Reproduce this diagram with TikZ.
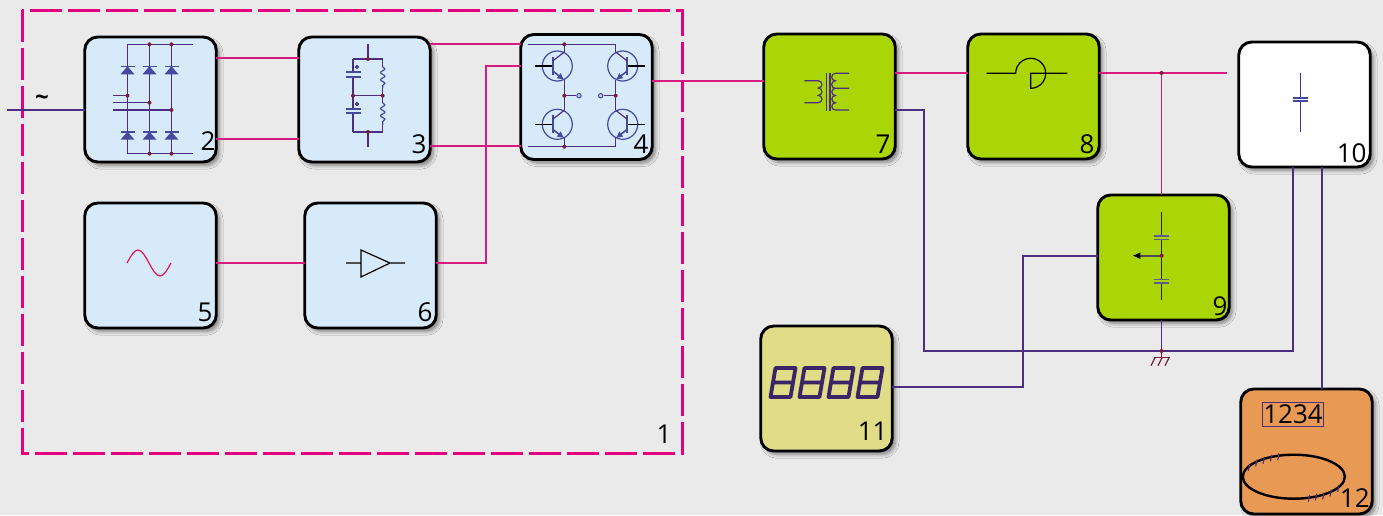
\documentclass[tikz,border=0pt]{standalone}
\usepackage{fontspec}
\setmainfont{Open Sans}
\usetikzlibrary{arrows.meta,decorations.pathmorphing,shadows.blur}
\definecolor{pagegrey}{HTML}{EAEAEA}
\definecolor{skyfill}{HTML}{D6EAFA}
\definecolor{limefill}{HTML}{ABD605}
\definecolor{sandfill}{HTML}{E0DC88}
\definecolor{orangefill}{HTML}{E89A55}
\definecolor{magline}{HTML}{D81B80}
\definecolor{frameline}{HTML}{E4007F}
\definecolor{purpline}{HTML}{4B2E7F}
\definecolor{iconblue}{HTML}{454A9E}
\definecolor{juncred}{HTML}{7A1E3C}
\tikzset{
  >=Latex,
  stage/.style={draw=black, line width=1.45pt, rounded corners=6.5pt, minimum width=65.75pt, minimum height=62.5pt,
    inner sep=0pt, outer sep=0pt, blur shadow={shadow xshift=1.6pt, shadow yshift=-1.8pt, shadow blur steps=6, shadow blur radius=1.8pt, shadow opacity=45}},
  num/.style={font=\fontsize{13}{13}\selectfont, anchor=base east, inner sep=0pt},
  wirered/.style={draw=magline, line width=0.58pt},
  wirepurp/.style={draw=purpline, line width=0.58pt},
  rail/.style={draw=purpline, line width=0.58pt},
  plate/.style={draw=iconblue, line width=0.8pt},
  junc/.style={fill=juncred},
  ink/.style={draw=black, line width=0.6pt},
  zig/.style={draw=iconblue, line width=0.6pt, decorate, decoration={snake, amplitude=1.1pt, segment length=3.6pt}},
}
\begin{document}
\begin{tikzpicture}[x=0.5pt,y=-0.5pt]
\useasboundingbox (0,0) rectangle (1383,515);
\fill[pagegrey] (0,0) rectangle (1383,515);
% dashed frame of the inverter
\draw[draw=frameline, line width=1.5pt, dash pattern=on 16pt off 3pt] (22,10) rectangle (682,453);
\node[num] (n1) at (672,443) {1};
% stages
\node[stage, fill=skyfill] (b2) at (150.5,99.5) {};
\node[stage, fill=skyfill] (b3) at (364.5,99.5) {};
\node[stage, fill=skyfill] (b4) at (586.5,97) {};
\node[stage, fill=skyfill] (b5) at (150.5,265.5) {};
\node[stage, fill=skyfill] (b6) at (370.5,265.5) {};
\node[stage, fill=limefill] (b7) at (829.5,96.5) {};
\node[stage, fill=limefill] (b8) at (1033.5,96.5) {};
\node[stage, fill=limefill] (b9) at (1163.5,257.5) {};
\node[stage, fill=white] (b10) at (1304.5,104.5) {};
\node[stage, fill=sandfill] (b11) at (826.5,388.5) {};
\node[stage, fill=orangefill] (b12) at (1306.5,451.5) {};
% numbers
\node[num] (n2) at (216,150) {2};
\node[num] (n3) at (427,153) {3};
\node[num] (n4) at (649,153) {4};
\node[num] (n5) at (213,321) {5};
\node[num] (n6) at (433,321) {6};
\node[num] (n7) at (891,153) {7};
\node[num] (n8) at (1095,153) {8};
\node[num] (n9) at (1228,315) {9};
\node[num] (n10) at (1367,162) {10};
\node[num] (n11) at (888,440) {11};
\node[num] (n12) at (1370,507) {12};
% magenta wires
\coordinate (j8) at (1161.5,73);
\coordinate (e10) at (1227,73);
\draw[wirered] (b2.east |- 0,58) -- (b3.west |- 0,58);
\draw[wirered] (b2.east |- 0,139) -- (b3.west |- 0,139);
\draw[wirered] (b3.east |- 0,44) -- (b4.west |- 0,44);
\draw[wirered] (b3.east |- 0,146) -- (b4.west |- 0,146);
\draw[wirered] (b5.east |- 0,263) -- (b6.west |- 0,263);
\draw[wirered] (b6.east |- 0,263) -| (486,66) -- (b4.west |- 0,66);
\draw[wirered] (b4.east |- 0,81) -- (b7.west |- 0,81);
\draw[wirered] (b7.east |- 0,73) -- (b8.west |- 0,73);
\draw[wirered] (b8.east |- 0,73) -- (e10);
\draw[wirered] (j8) -- (j8 |- b9.north);
\fill[junc] (j8) circle (2);
% purple wires
\coordinate (ac) at (7,110);
\coordinate (gnd) at (1161.5,351);
\draw[wirepurp] (ac) -- (b2.west |- ac);
\node[font=\fontsize{12}{12}\selectfont\bfseries, inner sep=0pt] (acl) at (42,100) {\textasciitilde};
\draw[wirepurp] (b7.east |- 0,110) -| (924,351) -- (1293,351) -- (1293,0 |- b10.south);
\draw[wirepurp] (gnd |- b9.south) -- (gnd);
\draw[wirepurp] (1322,0 |- b10.south) -- (1322,0 |- b12.north);
\draw[wirepurp] (b11.east |- 0,387) -| (1023,256) -- (b9.west |- 0,256);
% ground
\draw[draw=juncred, line width=0.6pt] (gnd) -- ++(0,6.7) ++(-8,0) -- ++(16,0);
\foreach \x in {1155,1162,1169}
  \draw[draw=juncred, line width=0.6pt] (\x,357.7) -- ++(-4,8);
\fill[junc] (gnd) circle (2);
% 2: rectifier
\draw[rail] (193,44.3) -- (127.5,44.3) -- (127.5,153.7) -- (193,153.7);
\draw[rail] (149.5,44.3) -- (149.5,153.7);
\draw[rail] (171.5,44.3) -- (171.5,153.7);
\draw[rail] (112.7,95.7) -- (127.5,95.7);
\draw[rail] (112.7,102.7) -- (149.5,102.7);
\draw[rail] (112.7,110) -- (171.5,110);
\foreach \x in {127.5,149.5,171.5}
  \foreach \y in {66.3,131.7} {
    \fill[iconblue] (\x,\y) -- (\x-7,\y+8) -- (\x+7,\y+8) -- cycle;
    \draw[plate] (\x-7,\y) -- (\x+7,\y);
  }
\foreach \x/\y in {149.5/44.3,171.5/44.3,149.5/153.7,171.5/153.7,127.5/95.7,149.5/102.7,171.5/110}
  \fill[junc] (\x,\y) circle (2);
% 3: capacitors and resistors
\draw[rail] (368,44) -- (368,59) (353,59) -- (382.7,59) (353,95.7) -- (382.7,95.7) (353,132) -- (382.7,132) (368,132) -- (368,146.7);
\draw[rail] (353,59) -- (353,72) (353,76.7) -- (353,109) (353,112.7) -- (353,132);
\draw[rail] (382.7,59) -- (382.7,66.7) (382.7,88) -- (382.7,102.7) (382.7,125) -- (382.7,132);
\draw[zig] (382.7,66.7) -- (382.7,88);
\draw[zig] (382.7,102.7) -- (382.7,125);
\foreach \y/\z in {72/76.7,109/112.7} {
  \draw[plate] (346,\y) -- (360.5,\y);
  \draw[plate] (346,\z) -- (360.5,\z);
  \draw[draw=iconblue, line width=0.6pt] (355,\y-5) -- (359,\y-5) (357,\y-7) -- (357,\y-3);
}
\foreach \x/\y in {368/59,353/95.7,382.7/95.7,368/132}
  \fill[junc] (\x,\y) circle (2);
% 4: transistor bridge
\draw[rail] (527.7,44.3) -- (615.7,44.3) (527.7,146.7) -- (615.7,146.7);
\foreach \x in {564.3,615.7}
  \draw[rail] (\x,44.3) -- (\x,52) (\x,80) -- (\x,110.3) (\x,138.3) -- (\x,146.7);
\foreach \cx/\cy/\s in {557.3/66/1,557.3/124.3/1,622.7/66/-1,622.7/124.3/-1} {
  \begin{scope}[shift={(\cx,\cy)},xscale=\s]
    \draw[draw=iconblue, line width=0.6pt] (0,0) circle (15);
    \draw[ink] (-22.3,0) -- (-4.6,0);
    \draw[draw=iconblue, line width=1pt] (-4.6,-9) -- (-4.6,9);
    \draw[rail] (-4.6,-5) -- (7,-14);
    \draw[rail, draw=iconblue, line width=0.8pt, -{Latex[length=3.5pt,width=3.5pt]}] (-4.6,5) -- (7,14);
  \end{scope}
}
\draw[rail] (564.3,95.7) -- (575.5,95.7) (604,95.7) -- (615.7,95.7);
\draw[draw=iconblue, line width=0.5pt, fill=iconblue!30!white] (579,95.7) circle (2.2) (600.7,95.7) circle (2.2);
\foreach \x/\y in {564.3/44.3,564.3/146.7,564.3/95.7,615.7/95.7}
  \fill[junc] (\x,\y) circle (2);
% 5: sine
\draw[draw=magline!70!red, line width=0.6pt] (127,263) sin (138,250) cos (149,263) sin (160,276) cos (171,263);
% 6: amplifier
\draw[ink] (346,263) -- (361,263) (361,250) -- (390,263) -- (361,277) -- cycle (390,263) -- (405,263);
% 7: transformer
\draw[rail] (826.3,73) -- (826.3,110.7) (830,73) -- (830,110.7);
\draw[rail] (804.3,80.7) -- (818.3,80.7) arc (-90:90:3.67) arc (-90:90:3.67) arc (-90:90:3.67) -- (804.3,102.7);
\draw[rail] (849,73.3) -- (835.4,73.3) arc (270:90:3.75) arc (270:90:3.75) -- (849,88.3) (835.4,88.3) arc (270:90:3.62) arc (270:90:3.62) arc (270:90:3.62) -- (849,110);
% 8: saturable element
\draw[ink] (986.7,73.3) -- (1015.7,73.3) arc (180:450:15) -- (1030.7,73.3) -- (1067.3,73.3);
% 9: capacitive divider
\draw[ink, draw=purpline!60!black] (1161.7,212) -- (1161.7,236) (1161.7,239.3) -- (1161.7,279.3) (1161.7,283) -- (1161.7,300);
\draw[plate, draw=iconblue!60!gray] (1154.3,236) -- (1169,236) (1154.3,239.3) -- (1169,239.3) (1154.3,279.3) -- (1169,279.3) (1154.3,283) -- (1169,283);
\draw[draw=black!70, line width=0.8pt, -{Latex[length=4pt,width=3.5pt,black]}] (1161.7,255.7) -- (1132.3,255.7);
\fill[junc] (1161.7,255.7) circle (2);
% 10: capacitor
\draw[rail] (1300.7,73.3) -- (1300.7,97.7) (1300.7,101) -- (1300.7,132.3);
\draw[plate] (1293.3,97.7) -- (1307.7,97.7) (1293.3,101) -- (1307.7,101);
% 11: display
\foreach \dx in {0,29,58,87}
  \draw[draw=purpline!80!black, line width=1.9pt, line join=round, line cap=round]
    (770.5+\dx,397) -- (775.5+\dx,368) -- (795.5+\dx,368) -- (790.5+\dx,397) -- cycle (773+\dx,382.5) -- (793+\dx,382.5);
% 12: meter
\node[draw=purpline, line width=0.6pt, font=\fontsize{13}{13}\selectfont, minimum width=30.3pt, minimum height=11.8pt, inner sep=0pt] (read) at (1293,414.5) {1234};
\draw[draw=black, line width=1.2pt] (1293.8,476.7) ellipse (51 and 22);
\foreach \x/\y in {1249/467.3,1256.3/463,1263.7/460.3,1271/458,1278.3/456.7,1309/498.3,1316/497,1323.3/496,1330.7/493,1338.3/488.3}
  \draw[rail] (\x-0.6,\y+3.4) -- (\x+0.6,\y-3.4);
\end{tikzpicture}
\end{document}
